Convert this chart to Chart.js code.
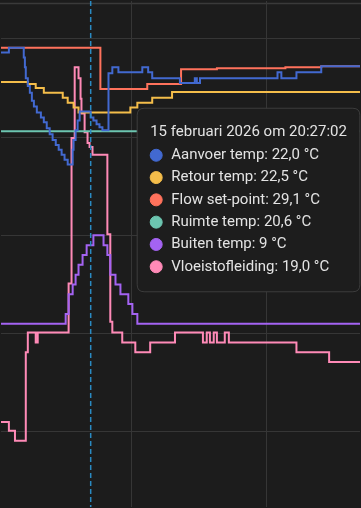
<!DOCTYPE html>
<html>
<head>
<meta charset="utf-8">
<script src="https://cdn.jsdelivr.net/npm/chart.js@4.4.1/dist/chart.umd.min.js"></script>
<style>
  html, body { margin: 0; padding: 0; background: #1c1c1c; }
  canvas { display: block; }
</style>
</head>
<body>
<canvas id="chart-verwarming" width="361" height="508"></canvas>
<script>
// time in minutes on the visible window, values in °C
const seriesNames = ['Aanvoer temp', 'Retour temp', 'Flow set-point', 'Ruimte temp', 'Buiten temp', 'Vloeistofleiding'];
const seriesColors = ['#4269d0', '#f4bd4a', '#ff725c', '#6cc5b0', '#a463f2', '#ff8ab7'];
const seriesDecimals = [1, 1, 1, 1, 0, 1];

const aanvoerTimes = [0, 5.7, 12.3, 12.8, 13.2, 14.1, 15.0, 15.9, 16.8, 18.1, 19.9, 21.2, 22.5, 23.8, 25.1, 26.5, 27.8, 29.1, 30.4, 31.8,
  34.0, 34.4, 35.3, 36.2, 37.1, 42, 43.2, 44.6, 45.9, 47.2, 49.9, 51.6, 54.3, 64.9, 67.5, 69.3, 81.6, 88.2, 89.1, 90.5,
  124.9, 126.6, 133.3, 144.3, 162];
const aanvoerValues = [28.6, 29.1, 28.1, 27.1, 26.0, 25.2, 24.5, 23.7, 23.1, 22.5, 22.0, 21.5, 20.9, 20.3, 19.7, 19.2, 18.7, 18.2, 17.7, 17.2,
  18.7, 19.7, 20.7, 21.7, 22.6, 22.0, 21.7, 21.3, 21.0, 20.7, 26.5, 27.1, 26.6, 27.1, 26.6, 26.0, 25.5, 26.0, 25.5, 26.0,
  26.6, 26.0, 26.6, 27.2, 27.2];

const retourTimes = [0, 14.1, 17.6, 21.2, 29.6, 31.8, 34.4, 36.6, 59.6, 62.7, 69.3, 78.1, 162];
const retourValues = [25.6, 25.4, 25.0, 24.5, 24.0, 23.5, 23.0, 22.5, 23.0, 23.5, 24.0, 24.6, 24.6];

const setpointTimes = [0, 46.3, 67.1, 82.1, 98.0, 128.4, 144.3, 162];
const setpointValues = [29.1, 24.9, 25.4, 26.9, 27.0, 27.1, 27.2, 27.2];

const ruimteTimes = [0, 162];
const ruimteValues = [20.6, 20.6];

const buitenTimes = [0, 30.9, 32.2, 34.0, 35.3, 36.6, 38.4, 40.2, 43.2, 47.7, 49.4, 50.7, 53.0, 55.2, 58.7, 60.5, 62.7, 162];
const buitenValues = [1, 2, 4, 5, 6, 7, 8, 9, 10, 9, 8, 6, 5, 4, 3, 2, 1, 1];

const leidingTimes = [0, 5.7, 8.4, 13.2, 14.1, 17.6, 18.5, 32.2, 33.5, 34.9, 36.6, 37.5, 37.9, 39.3, 40.6, 41.5, 42.8,
  49.4, 50.7, 51.6, 56.0, 61.8, 68.4, 79.4, 91.8, 93.5, 94.9, 96.6, 98.0, 101.5, 103.3, 133.3, 147.8, 162];
const leidingValues = [-9.0, -9.9, -10.9, -1.9, 0.1, -0.9, 0.1, 5.1, 19.9, 27.1, 26.0, 23.9, 22.4, 20.5, 19.4, 19.0, 18.2,
  10.1, 1.2, 0.1, -0.9, -1.9, -0.9, 0.1, -0.9, 0.1, -0.9, 0.1, -0.9, 0.1, -0.9, -1.9, -2.9, -2.9];

const timesList = [aanvoerTimes, retourTimes, setpointTimes, ruimteTimes, buitenTimes, leidingTimes];
const valuesList = [aanvoerValues, retourValues, setpointValues, ruimteValues, buitenValues, leidingValues];

const hoverTime = 42;
const hoverTitle = '15 februari 2026 om 20:27:02';
const xGridTicks = [60, 120];
const yGridTicks = [-10, 0, 10, 20, 30];

function toPoints(times, values) {
  return times.map((t, i) => ({ x: t, y: values[i] }));
}

// index of the step that is in effect at time t
function indexAt(times, t) {
  let k = 0;
  times.forEach((v, i) => { if (v <= t) k = i; });
  return k;
}

function formatValue(v, d) {
  return v.toFixed(d).replace('.', ',');
}

Chart.defaults.font.family = 'Roboto';

Chart.Tooltip.positioners.besideCrosshair = function () {
  const x = this.chart.scales.x.getPixelForValue(hoverTime);
  return { x: x + 47, y: 200, xAlign: 'left', yAlign: 'center' };
};

const cardEdge = {
  id: 'cardEdge',
  beforeDraw(chart) {
    const ctx = chart.ctx;
    ctx.save();
    ctx.strokeStyle = '#3a3a3a';
    ctx.lineWidth = 1.5;
    ctx.beginPath();
    ctx.moveTo(0, 3.5);
    ctx.lineTo(chart.width, 3.5);
    ctx.stroke();
    ctx.restore();
  }
};

const crosshair = {
  id: 'crosshair',
  afterDatasetsDraw(chart) {
    const x = chart.scales.x.getPixelForValue(hoverTime);
    const { top, bottom } = chart.chartArea;
    const ctx = chart.ctx;
    ctx.save();
    ctx.strokeStyle = '#2a8ac2';
    ctx.lineWidth = 1.5;
    ctx.setLineDash([5, 3]);
    ctx.beginPath();
    ctx.moveTo(x, top);
    ctx.lineTo(x, bottom);
    ctx.stroke();
    ctx.restore();
  }
};

const gridOpts = { color: '#363636', lineWidth: 1, drawTicks: false };

const chart = new Chart(document.getElementById('chart-verwarming'), {
  type: 'line',
  data: {
    datasets: seriesNames.map((name, i) => ({
      label: name,
      data: toPoints(timesList[i], valuesList[i]),
      borderColor: seriesColors[i],
      backgroundColor: seriesColors[i],
      borderWidth: 2,
      stepped: true,
      pointRadius: 0,
      pointHoverRadius: 0,
      fill: false
    }))
  },
  options: {
    responsive: false,
    animation: false,
    events: [],
    layout: { padding: 0 },
    scales: {
      x: {
        type: 'linear', min: 2.2, max: 161.5,
        afterBuildTicks: s => { s.ticks = xGridTicks.map(v => ({ value: v })); },
        ticks: { display: false },
        grid: gridOpts,
        border: { display: false }
      },
      y: {
        type: 'linear', min: -17.65, max: 33.85,
        afterBuildTicks: s => { s.ticks = yGridTicks.map(v => ({ value: v })); },
        ticks: { display: false },
        grid: gridOpts,
        border: { display: false }
      }
    },
    plugins: {
      legend: { display: false },
      tooltip: {
        enabled: true,
        animation: false,
        position: 'besideCrosshair',
        xAlign: 'left',
        yAlign: 'center',
        caretSize: 0,
        caretPadding: 0,
        backgroundColor: '#1d1d1d',
        borderColor: '#3d3d3d',
        borderWidth: 1,
        cornerRadius: 7,
        padding: { top: 15, bottom: 16, left: 13, right: 13 },
        titleFont: { family: 'Roboto', size: 15, weight: 'normal' },
        titleColor: '#e3e3e3',
        titleMarginBottom: 5,
        bodyFont: { family: 'Roboto', size: 15 },
        bodyColor: '#e3e3e3',
        bodySpacing: 4.3,
        usePointStyle: true,
        boxWidth: 12,
        boxHeight: 12,
        boxPadding: 7,
        multiKeyBackground: 'transparent',
        callbacks: {
          title: () => hoverTitle,
          label: ctx => ctx.dataset.label + ': ' + formatValue(ctx.parsed.y, seriesDecimals[ctx.datasetIndex]) + ' °C',
          labelColor: ctx => ({ borderColor: seriesColors[ctx.datasetIndex], backgroundColor: seriesColors[ctx.datasetIndex], borderWidth: 0 }),
          labelPointStyle: () => ({ pointStyle: 'circle', rotation: 0 })
        }
      }
    }
  },
  plugins: [cardEdge, crosshair]
});

chart.tooltip.setActiveElements(
  seriesNames.map((n, i) => ({ datasetIndex: i, index: indexAt(timesList[i], hoverTime) })),
  { x: chart.scales.x.getPixelForValue(hoverTime), y: 200 }
);
chart.update();
</script>
</body>
</html>
